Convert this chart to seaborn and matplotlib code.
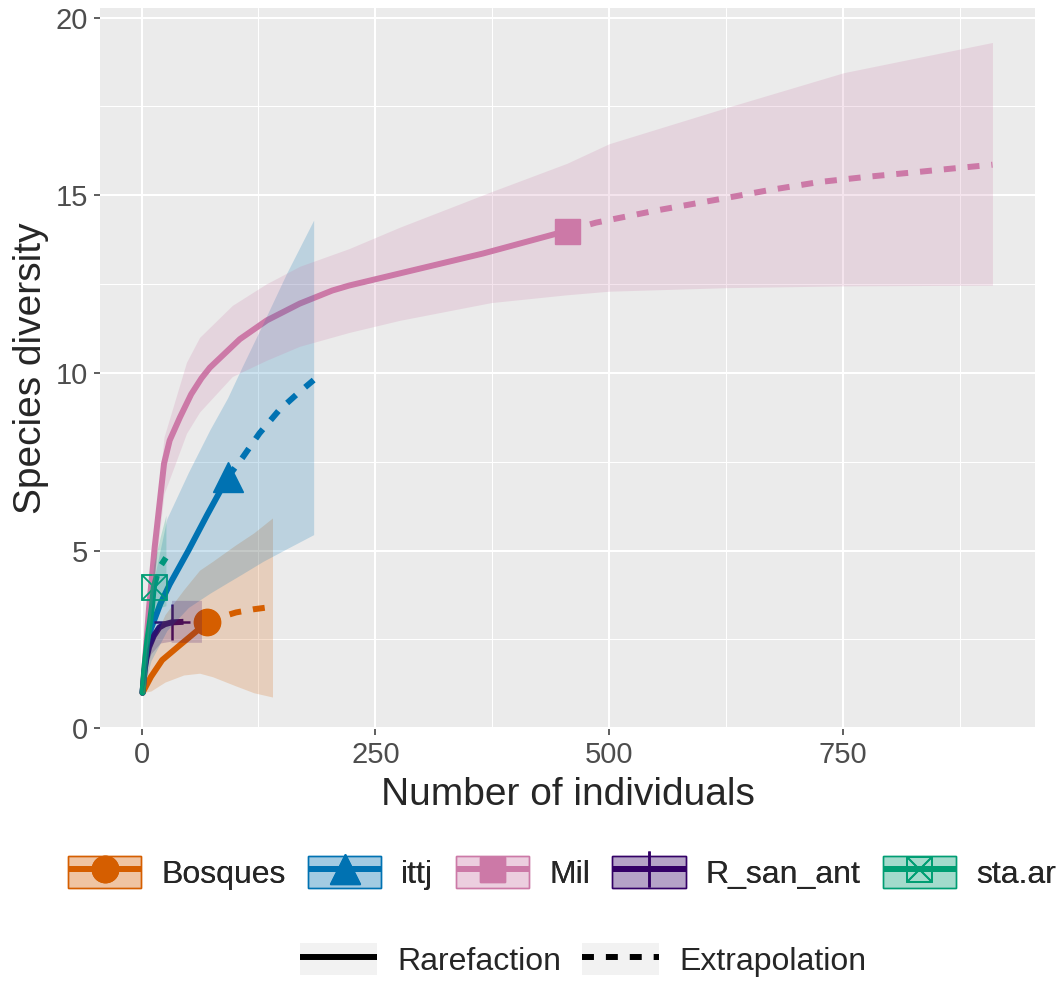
import numpy as np
import pandas as pd
import matplotlib
matplotlib.use("Agg")
import matplotlib.pyplot as plt
import seaborn as sns
from matplotlib.patches import Patch
from matplotlib.lines import Line2D
from matplotlib.legend_handler import HandlerTuple
from matplotlib.colors import to_rgba

# --- DATA ---
sites = ["Bosques", "ittj", "Mil", "R_san_ant", "sta.ar"]
colors = ["#D55E00", "#0072B2", "#CC79A7", "#330066", "#009E73"]

# Bosques
bosques_rare_x = [1, 10, 22, 40, 55, 70]
bosques_rare_y = [1.0, 1.45, 1.92, 2.32, 2.65, 2.98]
bosques_ext_x = [70, 85, 101, 120, 140]
bosques_ext_y = [2.98, 3.13, 3.26, 3.35, 3.42]
bosques_band_x = [1, 10, 25, 45, 62, 76, 100, 120, 140]
bosques_band_lo = [1.0, 1.05, 1.3, 1.5, 1.55, 1.45, 1.2, 1.0, 0.88]
bosques_band_hi = [1.0, 2.3, 3.2, 3.9, 4.45, 4.7, 5.15, 5.5, 5.92]

# ittj
ittj_rare_x = [1, 5, 10, 20, 30, 50, 70, 92]
ittj_rare_y = [1.0, 2.1, 2.8, 3.5, 4.05, 5.0, 6.0, 7.06]
ittj_ext_x = [92, 108, 126, 147, 166, 184]
ittj_ext_y = [7.06, 7.62, 8.3, 8.95, 9.4, 9.8]
ittj_band_x = [1, 10, 27, 50, 73, 92, 108, 130, 155, 184]
ittj_band_lo = [1.0, 1.9, 2.75, 3.4, 3.8, 4.1, 4.35, 4.7, 5.05, 5.45]
ittj_band_hi = [1.0, 3.8, 5.9, 7.2, 8.4, 9.3, 10.2, 11.4, 12.8, 14.3]

# Mil
mil_rare_x = [1, 8, 14, 24, 30, 41, 53, 64, 73, 105, 134, 169, 204, 222, 276, 365, 455]
mil_rare_y = [1.0, 3.4, 5.1, 7.45, 8.1, 8.75, 9.4, 9.85, 10.15, 10.95, 11.48, 11.95, 12.32, 12.46, 12.8, 13.36, 14.0]
mil_ext_x = [455, 486, 550, 616, 670, 724, 776, 828, 870, 910]
mil_ext_y = [14.0, 14.23, 14.57, 14.88, 15.14, 15.37, 15.52, 15.65, 15.76, 15.86]
mil_band_x = [1, 14, 24, 48, 62, 97, 133, 169, 222, 276, 374, 455, 500, 626, 751, 910]
mil_band_lo = [1.0, 4.3, 6.6, 8.3, 8.9, 9.9, 10.35, 10.75, 11.14, 11.48, 11.98, 12.2, 12.3, 12.4, 12.45, 12.47]
mil_band_hi = [1.0, 5.6, 8.2, 10.3, 11.0, 11.9, 12.5, 13.0, 13.5, 14.1, 15.1, 15.9, 16.45, 17.47, 18.45, 19.3]

# R_san_ant
rsa_rare_x = [1, 3, 5, 8, 13, 19, 25, 32]
rsa_rare_y = [1.0, 1.6, 1.95, 2.28, 2.6, 2.84, 2.93, 2.98]
rsa_ext_x = [32, 40, 48, 56, 64]
rsa_ext_y = [2.98, 2.99, 3.0, 3.0, 3.0]
rsa_band_x = [1, 5, 10, 20, 31, 32, 64]
rsa_band_lo = [1.0, 1.7, 2.1, 2.4, 2.45, 2.42, 2.42]
rsa_band_hi = [1.0, 2.2, 2.6, 2.95, 3.05, 3.6, 3.6]

# sta.ar
sta_rare_x = [1, 3, 6, 9, 11, 13]
sta_rare_y = [1.0, 1.7, 2.45, 3.0, 3.4, 3.97]
sta_ext_x = [13, 17, 21, 26]
sta_ext_y = [3.97, 4.35, 4.6, 4.8]
sta_band_x = [1, 6, 13, 20, 26]
sta_band_lo = [1.0, 2.1, 3.3, 3.4, 3.45]
sta_band_hi = [1.0, 2.8, 4.6, 5.4, 6.0]

x_ticks = [0, 250, 500, 750]
y_ticks = [0, 5, 10, 15, 20]

# --- build long tables ---
curves = {
    "Bosques": (bosques_rare_x, bosques_rare_y, bosques_ext_x, bosques_ext_y),
    "ittj": (ittj_rare_x, ittj_rare_y, ittj_ext_x, ittj_ext_y),
    "Mil": (mil_rare_x, mil_rare_y, mil_ext_x, mil_ext_y),
    "R_san_ant": (rsa_rare_x, rsa_rare_y, rsa_ext_x, rsa_ext_y),
    "sta.ar": (sta_rare_x, sta_rare_y, sta_ext_x, sta_ext_y),
}
bands = {
    "Bosques": (bosques_band_x, bosques_band_lo, bosques_band_hi),
    "ittj": (ittj_band_x, ittj_band_lo, ittj_band_hi),
    "Mil": (mil_band_x, mil_band_lo, mil_band_hi),
    "R_san_ant": (rsa_band_x, rsa_band_lo, rsa_band_hi),
    "sta.ar": (sta_band_x, sta_band_lo, sta_band_hi),
}

rows = []
for site, (rx, ry, ex, ey) in curves.items():
    rows += [(site, "Rarefaction", a, b) for a, b in zip(rx, ry)]
    rows += [(site, "Extrapolation", a, b) for a, b in zip(ex, ey)]
df = pd.DataFrame(rows, columns=["site", "method", "m", "qD"])

# observed points = end of rarefaction
obs = df[df["method"] == "Rarefaction"].groupby("site", sort=False).last().reset_index()

# --- STYLE ---
sns.set_style("darkgrid", {"axes.facecolor": "#EBEBEB", "grid.color": "white"})
plt.rcParams["font.family"] = ["Liberation Sans", "DejaVu Sans"]

LW = 4.3
DASH = (0, (2, 2))
marker_kw = {
    "Bosques": dict(marker="o", ms=19),
    "ittj": dict(marker="^", ms=21),
    "Mil": dict(marker="s", ms=18),
    "R_san_ant": dict(marker="+", ms=26, mew=1.8),
    "sta.ar": dict(marker="s", ms=18, mfc="none", mew=1.3),
}

fig = plt.figure(figsize=(10.56, 9.82), dpi=100)
ax = fig.add_axes([100 / 1056, 1 - 729 / 982, 935 / 1056, 721 / 982])

for site, col in zip(sites, colors):
    sub = df[df["site"] == site]
    sns.lineplot(data=sub[sub["method"] == "Rarefaction"], x="m", y="qD", color=col,
                 linewidth=LW, errorbar=None, ax=ax, zorder=3)
    sns.lineplot(data=sub[sub["method"] == "Extrapolation"], x="m", y="qD", color=col,
                 linewidth=LW, linestyle=DASH, errorbar=None, ax=ax, zorder=3)
    o = obs[obs["site"] == site]
    ax.plot(o["m"], o["qD"], color=col, linestyle="none", zorder=4, **marker_kw[site])
    if site == "sta.ar":
        ax.plot(o["m"], o["qD"], color=col, linestyle="none", marker="x", ms=18, mew=1.3, zorder=4)

for site, col in zip(sites, colors):
    bx, blo, bhi = bands[site]
    ax.fill_between(bx, blo, bhi, color=col, alpha=0.2, linewidth=0, zorder=5)

ax.set_xlim(-44.5, 955.5)
ax.set_ylim(-0.02, 20.27)
ax.set_xticks(x_ticks)
ax.set_yticks(y_ticks)
ax.set_xticks([125, 375, 625, 875], minor=True)
ax.set_yticks([2.5, 7.5, 12.5, 17.5], minor=True)
ax.grid(which="major", color="white", linewidth=1.5)
ax.grid(which="minor", color="white", linewidth=0.75)
for s in ax.spines.values():
    s.set_visible(False)
ax.tick_params(which="major", length=4.5, width=1.1, color="#333333", labelsize=21,
               labelcolor="#4D4D4D", pad=4, bottom=True, left=True)
ax.tick_params(which="minor", length=0)
ax.set_xlabel("Number of individuals", fontsize=28, labelpad=6)
ax.set_ylabel("Species diversity", fontsize=28, labelpad=5)

# --- LEGENDS ---
key_bg = "#F2F2F2"
site_handles = []
for site, col in zip(sites, colors):
    patch = Patch(facecolor=to_rgba(col, 0.2), edgecolor=col, linewidth=1.0)
    line = Line2D([], [], color=col, linewidth=LW, solid_capstyle="butt", **marker_kw[site])
    if site == "sta.ar":
        xm = Line2D([], [], color=col, linestyle="none", marker="x", ms=18, mew=1.3)
        site_handles.append((patch, line, xm))
    else:
        site_handles.append((patch, line))

leg1 = fig.legend(site_handles, sites, loc="center left",
                  bbox_to_anchor=(68 / 1056, 1 - 873 / 982), ncol=5, frameon=False,
                  fontsize=23, handlelength=2.3, handleheight=1.13, handletextpad=0.62,
                  columnspacing=0.7, borderpad=0, borderaxespad=0, numpoints=1,
                  handler_map={tuple: HandlerTuple(ndivide=1)})

meth_handles = [
    (Patch(facecolor=key_bg, edgecolor="none"),
     Line2D([], [], color="black", linewidth=LW, solid_capstyle="butt")),
    (Patch(facecolor=key_bg, edgecolor="none"),
     Line2D([], [], color="black", linewidth=LW, linestyle=DASH)),
]
leg2 = fig.legend(meth_handles, ["Rarefaction", "Extrapolation"], loc="center left",
                  bbox_to_anchor=(300 / 1056, 1 - 960 / 982), ncol=2, frameon=False,
                  fontsize=23, handlelength=2.4, handleheight=1.15, handletextpad=0.65,
                  columnspacing=0.65, borderpad=0, borderaxespad=0,
                  handler_map={tuple: HandlerTuple(ndivide=1)})
fig.add_artist(leg1)

fig.savefig("out.png", dpi=100)
